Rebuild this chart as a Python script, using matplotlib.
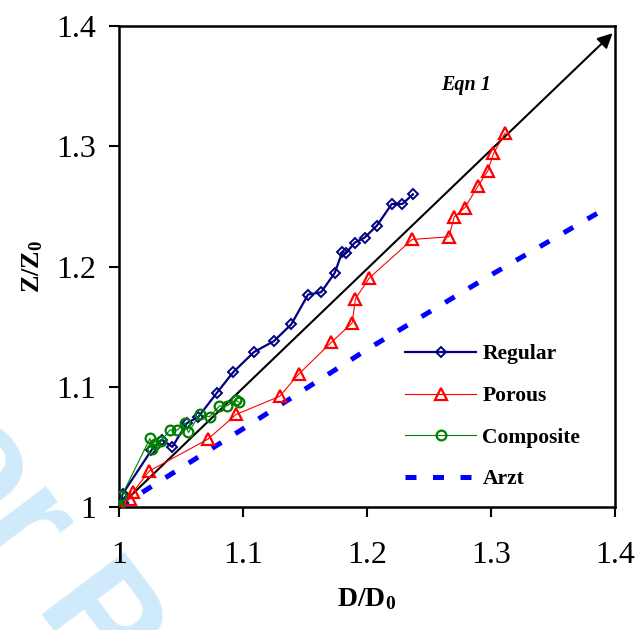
import matplotlib
matplotlib.use("Agg")
import matplotlib.pyplot as plt

plt.rcParams['font.family'] = ['Liberation Serif', 'DejaVu Serif']
plt.rcParams['mathtext.fontset'] = 'custom'
plt.rcParams['mathtext.rm'] = 'Liberation Serif'
plt.rcParams['mathtext.bf'] = 'Liberation Serif:bold'
plt.rcParams['mathtext.it'] = 'Liberation Serif:italic'

# data
regular_x = [1.000, 1.003, 1.026, 1.0345, 1.043, 1.0547, 1.064, 1.079, 1.092, 1.109, 1.125, 1.139,
             1.1525, 1.163, 1.174, 1.180, 1.183, 1.190, 1.198, 1.208, 1.220, 1.2285, 1.237]
regular_y = [1.000, 1.011, 1.047, 1.056, 1.050, 1.0697, 1.075, 1.095, 1.112, 1.129, 1.138, 1.152,
             1.1767, 1.1786, 1.1947, 1.212, 1.211, 1.2197, 1.224, 1.234, 1.252, 1.252, 1.260]

porous_x = [1.000, 1.009, 1.0116, 1.0245, 1.0717, 1.0945, 1.1295, 1.145, 1.1713, 1.188, 1.1907,
            1.202, 1.2365, 1.266, 1.2704, 1.279, 1.2895, 1.2974, 1.302, 1.3114]
porous_y = [1.000, 1.007, 1.0128, 1.030, 1.0564, 1.077, 1.092, 1.1106, 1.137, 1.153, 1.1733,
            1.1906, 1.2225, 1.2247, 1.2414, 1.249, 1.267, 1.2794, 1.294, 1.311]

composite_x = [1.000, 1.002, 1.025, 1.027, 1.029, 1.034, 1.041, 1.047, 1.053, 1.056, 1.065,
               1.073, 1.081, 1.087, 1.094, 1.097]
composite_y = [1.000, 1.009, 1.057, 1.048, 1.052, 1.055, 1.064, 1.064, 1.070, 1.062, 1.077,
               1.075, 1.084, 1.084, 1.089, 1.087]

arzt_x = [1.0, 1.1, 1.2, 1.3, 1.387]
arzt_y = [1.0, 1.065, 1.131, 1.193, 1.245]

eqn_start = (1.0, 1.0)
eqn_end = (1.398, 1.394)

ticks = [1, 1.1, 1.2, 1.3, 1.4]
tick_labels = ['1', '1.1', '1.2', '1.3', '1.4']

fig = plt.figure(figsize=(6.36, 6.30), dpi=100)
ax = fig.add_axes([119 / 636, 1 - 507 / 630, 496 / 636, 481 / 630])

# watermark
fig.text(-0.212, 0.397, 'For Peer Review', rotation=-53, rotation_mode='anchor',
         ha='left', va='baseline', fontsize=108, fontweight='bold',
         family=['Liberation Sans', 'DejaVu Sans'], color='#cfeafa', zorder=-5)

ax.plot(arzt_x, arzt_y, color='#0000FF', lw=3.6, linestyle=(0, (2.2, 3.3)),
        dash_capstyle='butt', label='Arzt', zorder=2)
ax.annotate('', xy=eqn_end, xytext=eqn_start,
            arrowprops=dict(arrowstyle='-|>', color='black', lw=1.5,
                            mutation_scale=22, shrinkA=0, shrinkB=0), zorder=3)
ax.text(1.2796, 1.351, 'Eqn 1', fontsize=14.5, fontweight='bold', style='italic',
        ha='center', va='center')

ax.plot(regular_x, regular_y, color='#000080', lw=1.6, marker='D', ms=5.2,
        mfc='none', mew=1.4, label='Regular', zorder=4)
ax.plot(porous_x, porous_y, color='#FF0000', lw=0.8, marker='^', ms=8,
        mfc='none', mew=1.6, label='Porous', zorder=4)
ax.plot(composite_x, composite_y, color='#008000', lw=0.8, marker='o', ms=7,
        mfc='none', mew=1.6, label='Composite', zorder=5)

ax.set_xlim(1, 1.4)
ax.set_ylim(1, 1.4)
ax.set_xticks(ticks)
ax.set_xticklabels(tick_labels)
ax.set_yticks(ticks)
ax.set_yticklabels(tick_labels)
ax.tick_params(direction='out', length=7.5, width=1.5, labelsize=23)
ax.tick_params(axis='x', pad=17)
ax.tick_params(axis='y', pad=9)
for s in ax.spines.values():
    s.set_linewidth(1.8)

ax.set_xlabel(r'$\mathbf{D/D_0}$', fontsize=20, labelpad=12)
ax.set_ylabel(r'$\mathbf{Z/Z_0}$', fontsize=19, labelpad=8)

handles, labels = ax.get_legend_handles_labels()
order = [1, 2, 3, 0]
leg = ax.legend([handles[i] for i in order], [labels[i] for i in order],
                loc='upper left', bbox_to_anchor=(0.5766, 0.338), frameon=False,
                borderpad=0, borderaxespad=0, handlelength=3.3, handletextpad=0.3,
                labelspacing=1.0, prop={'weight': 'bold', 'size': 15.5})

fig.savefig('out.png', dpi=100)
